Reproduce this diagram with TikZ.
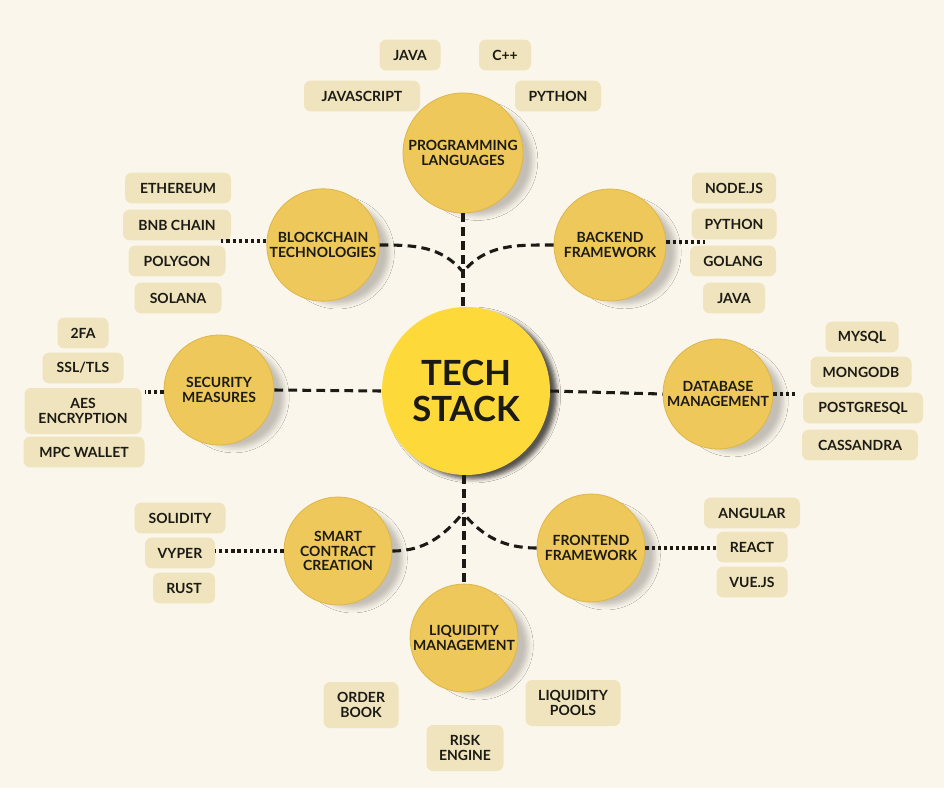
\documentclass[tikz,border=0pt]{standalone}
\usepackage{fontspec}
\setmainfont{Lato}
\usetikzlibrary{shadows.blur}
\definecolor{paper}{HTML}{FBF6EB}
\definecolor{hubyellow}{HTML}{FDD93A}
\definecolor{topicgold}{HTML}{EEC85B}
\definecolor{topicrim}{HTML}{DDB64A}
\definecolor{tagfill}{HTML}{EFE4BD}
\definecolor{ink}{HTML}{1C1A14}
\begin{document}
\begin{tikzpicture}[x=0.75pt,y=-0.75pt,text=ink]
    \tikzstyle{hub}=[circle,fill=hubyellow,minimum size=126pt,align=center,
      font=\fontsize{26}{27}\selectfont\bfseries,
      blur shadow={shadow xshift=5pt,shadow yshift=-3pt,shadow opacity=65,shadow blur radius=3pt}]
    \tikzstyle{topic}=[circle,fill=topicgold,draw=topicrim,line width=0.6pt,minimum size=#1*0.75pt,
      align=center,inner sep=1pt,font=\fontsize{10.5}{11}\selectfont\bfseries,
      blur shadow={shadow xshift=12pt,shadow yshift=-6pt,shadow scale=0.92,shadow opacity=22,shadow blur radius=4pt}]
    \tikzstyle{tag}=[rectangle,rounded corners=5pt,fill=tagfill,minimum width=#1*0.75pt,
      minimum height=23pt,align=center,inner sep=1pt,font=\fontsize{10.5}{11}\selectfont\bfseries]
    \tikzstyle{tag2}=[tag=#1,minimum height=34.5pt]
    \tikzstyle{links}=[draw=ink,line width=2.3pt,dash pattern=on 6.5pt off 4pt]
    \tikzstyle{dots}=[draw=ink,line width=2.4pt,dash pattern=on 2.4pt off 2.2pt]

    \fill[paper] (0,0) rectangle (944,788);
    \useasboundingbox (0,0) rectangle (944,788);

    % hub and topics
    \node[hub] (tech) at (466,391) {TECH\\STACK};
    \node[topic=120] (prog) at (463,153) {PROGRAMMING\\LANGUAGES};
    \node[topic=112] (chain) at (323,245) {BLOCKCHAIN\\TECHNOLOGIES};
    \node[topic=112] (back) at (610,245) {BACKEND\\FRAMEWORK};
    \node[topic=110] (secure) at (219,390) {SECURITY\\MEASURES};
    \node[topic=110] (data) at (718,394) {DATABASE\\MANAGEMENT};
    \node[topic=108] (smart) at (338,551) {SMART\\CONTRACT\\CREATION};
    \node[topic=108] (front) at (591,548) {FRONTEND\\FRAMEWORK};
    \node[topic=106] (liquid) at (464,638) {LIQUIDITY\\MANAGEMENT};

    % tags
    \node[tag=61] (java) at (410,55) {JAVA};
    \node[tag=52] (cpp) at (505,55) {C++};
    \node[tag=116] (js) at (362,96) {JAVASCRIPT};
    \node[tag=86] (py) at (558,96) {PYTHON};

    \node[tag=106] (eth) at (178,188) {ETHEREUM};
    \node[tag=108] (bnb) at (177,225) {BNB CHAIN};
    \node[tag=97] (poly) at (177,261) {POLYGON};
    \node[tag=87] (sol) at (178,298) {SOLANA};

    \node[tag=84] (node) at (734,188) {NODE.JS};
    \node[tag=85] (pyb) at (734,224) {PYTHON};
    \node[tag=86] (go) at (733,261) {GOLANG};
    \node[tag=62] (javab) at (734,298) {JAVA};

    \node[tag=51] (twofa) at (83,333) {2FA};
    \node[tag=81] (ssl) at (83,368) {SSL/TLS};
    \node[tag2=117] (aes) at (83,411) {AES\\ENCRYPTION};
    \node[tag=121] (mpc) at (84,452) {MPC WALLET};

    \node[tag=73] (mysql) at (862,337) {MYSQL};
    \node[tag=101] (mongo) at (861,372) {MONGODB};
    \node[tag=120] (pg) at (863,408) {POSTGRESQL};
    \node[tag=116] (cass) at (860,445) {CASSANDRA};

    \node[tag=91] (solid) at (180,518) {SOLIDITY};
    \node[tag=70] (vyper) at (180,553) {VYPER};
    \node[tag=62] (rust) at (184,588) {RUST};

    \node[tag=96] (ng) at (752,513) {ANGULAR};
    \node[tag=71] (react) at (752,547) {REACT};
    \node[tag=71] (vue) at (752,582) {VUE.JS};

    \node[tag2=75] (order) at (361,705) {ORDER\\BOOK};
    \node[tag2=95] (pools) at (573,703) {LIQUIDITY\\POOLS};
    \node[tag2=77] (risk) at (465,748) {RISK\\ENGINE};

    % dashed links to the hub
    \coordinate (jtop) at (463,272);
    \coordinate (jbot) at (463,513);
    \draw[links] (prog.south) -- (tech.north -| prog.south);
    \draw[links] (chain.east) to[out=0,in=130] (jtop);
    \draw[links] (back.west) to[out=180,in=50] (jtop);
    \draw[links] (secure.east) -- (tech.west);
    \draw[links] (tech.east) -- (data.west);
    \draw[links] (tech.south -| liquid.north) -- (liquid.north);
    \draw[links] (smart.east) to[out=0,in=-130] (jbot);
    \draw[links] (front.west) to[out=180,in=-50] (jbot);

    % dotted links to the tags
    \coordinate (chaintip) at (221,241);
    \coordinate (backtip) at (705,242);
    \coordinate (securetip) at (145,392);
    \coordinate (datatip) at (797,394);
    \draw[dots] (chain.west |- chaintip) -- (chaintip);
    \draw[dots] (back.east |- backtip) -- (backtip);
    \draw[dots] (secure.west |- securetip) -- (securetip);
    \draw[dots] (data.east |- datatip) -- (datatip);
    \draw[dots] (smart.west) -- (smart.west -| vyper.east);
    \draw[dots] (front.east) -- (front.east -| react.west);
\end{tikzpicture}
\end{document}
